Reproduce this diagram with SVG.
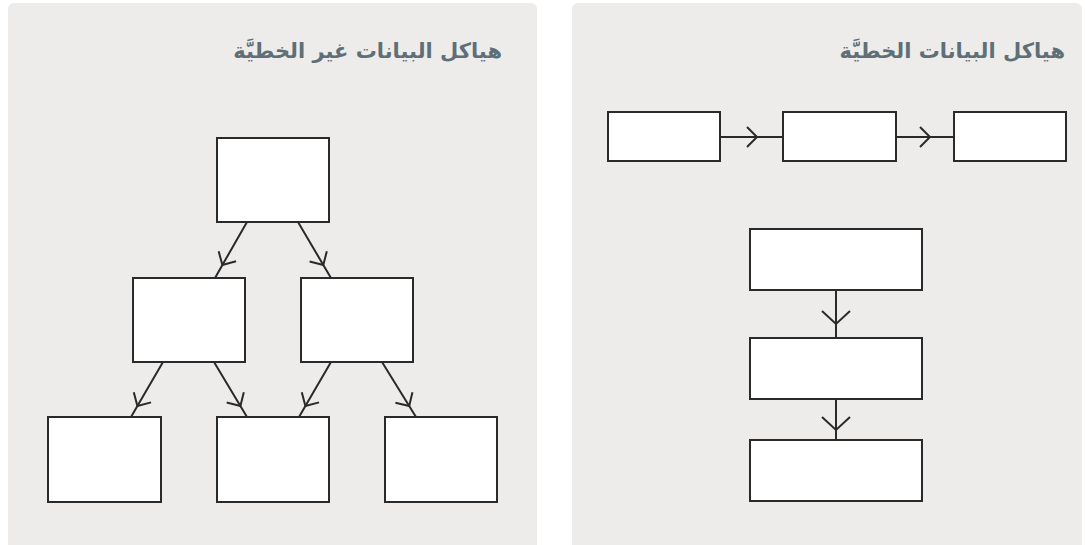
<svg xmlns="http://www.w3.org/2000/svg" width="1085" height="545" viewBox="0 0 1085 545">
<style>
.panel{fill:#edecea}
.box{fill:#ffffff;stroke:#2a2a2a;stroke-width:2}
.conn{fill:none;stroke:#2a2a2a;stroke-width:2}
.sm{marker-mid:url(#chev)}
.lg{marker-mid:url(#chevL)}
.title{font-family:"DejaVu Sans",sans-serif;font-weight:bold;font-size:21px;fill:#5e6f78}
</style>
<defs>
<marker id="chev" markerUnits="userSpaceOnUse" viewBox="-16 -16 32 32" markerWidth="32" markerHeight="32" refX="0" refY="0" orient="auto" overflow="visible">
<path d="M-10,-10 L0,0 L-10,10" fill="none" stroke="#2a2a2a" stroke-width="2"/>
</marker>
<marker id="chevL" markerUnits="userSpaceOnUse" viewBox="-16 -16 32 32" markerWidth="32" markerHeight="32" refX="0" refY="0" orient="auto" overflow="visible">
<path d="M-13,-14 L0,0 L-13,14" fill="none" stroke="#2a2a2a" stroke-width="2"/>
</marker>
</defs>
<rect width="1085" height="545" fill="#ffffff"/>
<rect class="panel" x="8" y="3" width="529" height="560" rx="6"/>
<rect class="panel" x="572" y="3" width="510" height="560" rx="6"/>
<text class="title" x="502" y="58" direction="rtl" text-anchor="start">هياكل البيانات غير الخطيَّة</text>
<text class="title" x="1065" y="58" direction="rtl" text-anchor="start">هياكل البيانات الخطيَّة</text>
<g id="connectors">
<path class="conn sm" d="M720,137 L757,137 L783,137"/>
<path class="conn sm" d="M896,137 L930,137 L954,137"/>
<path class="conn lg" d="M836,290 L836,324 L836,338"/>
<path class="conn lg" d="M836,399 L836,430 L836,440"/>
<path class="conn sm" d="M247,222 L222.4,265 L215,278"/>
<path class="conn sm" d="M298,222 L323.3,265 L331,278"/>
<path class="conn sm" d="M163,362 L137.4,406 L131,417"/>
<path class="conn sm" d="M214,362 L240.4,406 L247,417"/>
<path class="conn sm" d="M331,362 L305.4,406 L299,417"/>
<path class="conn sm" d="M382,362 L409.2,406 L416,417"/>
</g>
<g id="tree-root"><rect class="box" x="217" y="138" width="112" height="84"/></g>
<g id="tree-mid-left"><rect class="box" x="133" y="278" width="112" height="84"/></g>
<g id="tree-mid-right"><rect class="box" x="301" y="278" width="112" height="84"/></g>
<g id="tree-leaf-1"><rect class="box" x="48" y="417" width="113" height="85"/></g>
<g id="tree-leaf-2"><rect class="box" x="217" y="417" width="112" height="85"/></g>
<g id="tree-leaf-3"><rect class="box" x="385" y="417" width="112" height="85"/></g>
<g id="row-1"><rect class="box" x="608" y="112" width="112" height="49"/></g>
<g id="row-2"><rect class="box" x="783" y="112" width="113" height="49"/></g>
<g id="row-3"><rect class="box" x="954" y="112" width="112" height="49"/></g>
<g id="col-1"><rect class="box" x="750" y="229" width="172" height="61"/></g>
<g id="col-2"><rect class="box" x="750" y="338" width="172" height="61"/></g>
<g id="col-3"><rect class="box" x="750" y="440" width="172" height="61"/></g>
</svg>
